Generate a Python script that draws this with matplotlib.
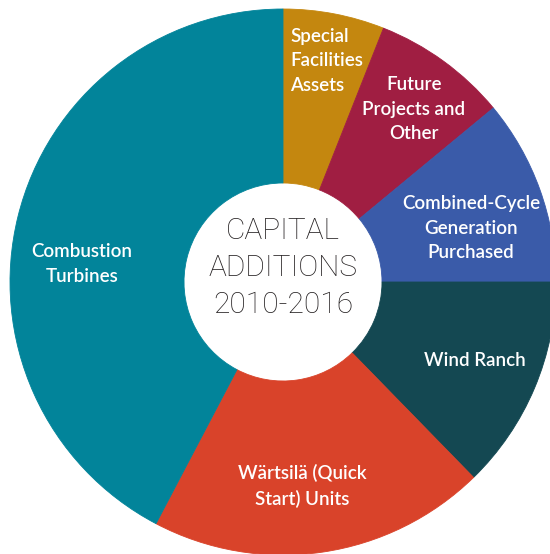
import matplotlib.pyplot as plt

# capital additions 2010-2016, share of total (%)
categories = ['Special Facilities Assets', 'Future Projects and Other',
              'Combined-Cycle Generation Purchased', 'Wind Ranch',
              'Wärtsilä (Quick Start) Units', 'Combustion Turbines']
shares = [6.0, 8.0, 11.0, 12.7, 20.0, 42.3]
colors = ['#C4870F', '#A01E42', '#3A5BA9', '#144852', '#D9432A', '#02849A']

# wrapped labels as they appear on the slices
slice_labels = ['Special\nFacilities\nAssets', 'Future\nProjects and\nOther',
                'Combined-Cycle\nGeneration\nPurchased', 'Wind Ranch',
                'Wärtsilä (Quick\nStart) Units', 'Combustion\nTurbines']
center_title = ['CAPITAL', 'ADDITIONS', '2010-2016']

W, H = 550, 554
fig = plt.figure(figsize=(W / 100, H / 100), dpi=100)
ax = fig.add_axes([0, 0, 1, 1])

cx, cy = 283, H - 282
r_out, r_in = 273, 99

wedges, _ = ax.pie(shares, colors=colors, startangle=90, counterclock=False,
                   radius=r_out, center=(cx, cy),
                   wedgeprops=dict(width=r_out - r_in, linewidth=0.6))
for w in wedges:
    w.set_edgecolor(w.get_facecolor())
ax.set_xlim(0, W)
ax.set_ylim(0, H)
ax.set_aspect('equal')
ax.axis('off')

# label anchors in pixel coords (x, y from top), alignment
label_pos = [(290, 61, 'left'), (414, 109, 'center'), (471, 228, 'center'),
             (475, 360, 'center'), (302, 486, 'center'), (82, 264, 'center')]
for txt, (x, y, ha) in zip(slice_labels, label_pos):
    ax.text(x, H - y, txt, ha=ha, va='center', ma=ha, color='white',
            fontsize=13.5, family='Lato', fontweight='semibold', linespacing=1.55)

# centre title, one line at a time for tighter control
for i, line in enumerate(center_title):
    ax.text(cx, H - (231 + 37 * i), line, ha='center', va='center',
            color='#231F20', fontsize=21.5, family='Roboto', fontweight='light')

fig.savefig('out.png', dpi=100)
